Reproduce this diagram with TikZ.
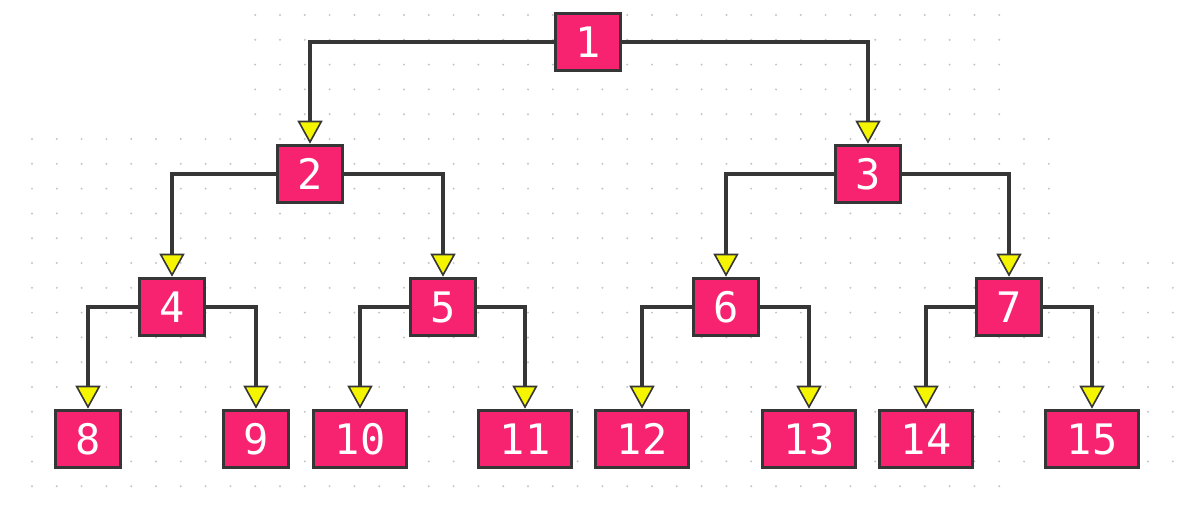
\documentclass[tikz,border=0pt]{standalone}
\usepackage{fontspec}
\usepackage{tikz}
\usetikzlibrary{arrows.meta}
\newfontfamily\heapfont{DejaVu Sans Mono}
\definecolor{heappink}{HTML}{F72270}
\definecolor{heapline}{HTML}{363636}
\definecolor{heapdot}{HTML}{C4C4C4}
\definecolor{heapyellow}{HTML}{F5F500}

\begin{document}
\begin{tikzpicture}[x=1pt, y=-1pt,
    heap/.style={draw=heapline, fill=heappink, line width=3.6pt, inner sep=0pt,
      minimum width=65pt, minimum height=57pt, text=white,
      font=\heapfont\fontsize{42}{42}\selectfont},
    heapwide/.style={heap, minimum width=93pt},
    link/.style={draw=heapline, line width=3.4pt,
      -{Triangle[width=25pt, length=23pt, fill=heapyellow, line width=1.6pt]}}]

  \useasboundingbox (0,0) rectangle (1204,520);

  \newcommand\GS{24.8}
  \newcommand\GX{32}
  \newcommand\GY{15}

  %% dotted canvas
  \foreach \i in {9,...,39} \foreach \j in {0,...,4}
    \fill[heapdot] (\GX+\i*\GS, \GY+\j*\GS) circle (1.1pt);
  \foreach \i in {0,...,41} \foreach \j in {5,...,9}
    \fill[heapdot] (\GX+\i*\GS, \GY+\j*\GS) circle (1.1pt);
  \foreach \i in {0,...,46} \foreach \j in {10,...,18}
    \fill[heapdot] (\GX+\i*\GS, \GY+\j*\GS) circle (1.1pt);
  \foreach \i in {0,...,39}
    \fill[heapdot] (\GX+\i*\GS, \GY+19*\GS) circle (1.1pt);

  %% level 0 and 1
  \node[heap] (h1) at (588, 42) {1};
  \node[heap] (h2) at (310, 174) {2};
  \node[heap] (h3) at (868, 174) {3};

  %% level 2
  \node[heap] (h4) at (172, 307) {4};
  \node[heap] (h5) at (443, 307) {5};
  \node[heap] (h6) at (726, 307) {6};
  \node[heap] (h7) at (1009, 307) {7};

  %% level 3
  \node[heap] (h8) at (88, 439) {8};
  \node[heap] (h9) at (256, 439) {9};
  \node[heapwide] (h10) at (360, 439) {10};
  \node[heapwide] (h11) at (525, 439) {11};
  \node[heapwide] (h12) at (642, 439) {12};
  \node[heapwide] (h13) at (809, 439) {13};
  \node[heapwide] (h14) at (926, 439) {14};
  \node[heapwide] (h15) at (1092, 439) {15};

  %% parent -> children
  \foreach \p/\l/\r in {1/2/3, 2/4/5, 3/6/7, 4/8/9, 5/10/11, 6/12/13, 7/14/15} {
    \draw[link] (h\p.west) -| (h\l.north); % left child
    \draw[link] (h\p.east) -| (h\r.north); % right child
  }

\end{tikzpicture}
\end{document}
